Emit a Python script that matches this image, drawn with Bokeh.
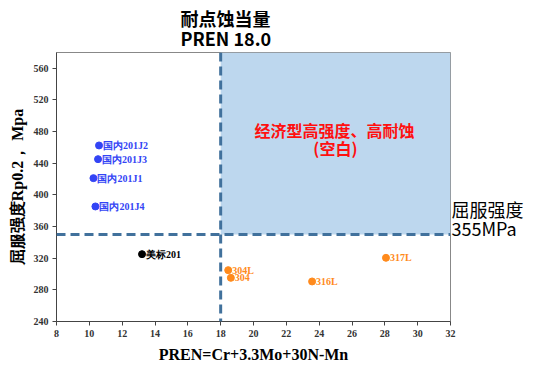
from bokeh.plotting import figure
from bokeh.models import Range1d, Span, Label, ColumnDataSource, FixedTicker, LinearAxis
from bokeh.core.properties import value
from bokeh.embed import file_html
from bokeh.resources import INLINE

# ---- data ----
cn_names = ["国内201J2", "国内201J3", "国内201J1", "国内201J4"]
cn_pren = [10.59, 10.53, 10.25, 10.37]
cn_rp = [462.5, 445.2, 421.2, 385.4]

us_names = ["美标201"]
us_pren = [13.21]
us_rp = [325.1]

ss_names = ["304L", "304", "316L", "317L"]
ss_pren = [18.46, 18.62, 23.57, 28.07]
ss_rp = [304.9, 295.2, 290.6, 320.5]

pren_threshold = 18.0
rp_threshold = 350.0
x_ticks = [8, 10, 12, 14, 16, 18, 20, 22, 24, 26, 28, 30, 32]
y_ticks = [240, 280, 320, 360, 400, 440, 480, 520, 560]
x_min, x_max = 8, 32
y_min, y_max = 240, 580
right_label_pos = [382, 358]
right_label_text = ["屈服强度", "355MPa"]

BLUE = "#3344F5"
ORANGE = "#FF8A1C"
DASH = "#41719C"
SERIF = "Liberation Serif"
SANS = "Noto Sans CJK SC"

p = figure(width=534, height=365, output_backend="svg", toolbar_location=None,
           x_range=Range1d(x_min, x_max), y_range=Range1d(y_min, y_max),
           min_border_left=56, min_border_right=84, min_border_top=52, min_border_bottom=44)
p.background_fill_color = "white"
p.border_fill_color = "white"
p.outline_line_color = "#888888"
p.outline_line_width = 1
p.xgrid.visible = False
p.ygrid.visible = False

for ax, ticks in ((p.xaxis, x_ticks), (p.yaxis, y_ticks)):
    ax.ticker = FixedTicker(ticks=ticks)
    ax.minor_tick_line_color = None
    ax.major_tick_in = 0
    ax.major_tick_out = 4
    ax.axis_line_color = "#444444"
    ax.major_tick_line_color = "#444444"
    ax.major_label_text_font = SERIF
    ax.major_label_text_font_style = "bold"
    ax.major_label_text_font_size = "10px"
    ax.major_label_text_color = "#333333"
    ax.major_label_standoff = 4
    ax.axis_label_text_font = SERIF
    ax.axis_label_text_font_style = "bold"
    ax.axis_label_text_color = "black"

p.xaxis.axis_label = "PREN=Cr+3.3Mo+30N-Mn"
p.xaxis.axis_label_text_font_size = "16px"
p.xaxis.axis_label_standoff = 6
p.yaxis.axis_label = "屈服强度Rp0.2， Mpa"
p.yaxis.axis_label_text_font_size = "16px"
p.yaxis.axis_label_standoff = 5

# right-hand threshold caption
rax = LinearAxis(ticker=FixedTicker(ticks=right_label_pos),
                 major_label_overrides={k: v for k, v in zip(right_label_pos, right_label_text)},
                 axis_line_color=None, major_tick_line_color=None, minor_tick_line_color=None,
                 major_tick_in=0, major_tick_out=0, major_label_standoff=1,
                 major_label_text_font=SANS, major_label_text_font_size="18px",
                 major_label_text_color="black")
p.add_layout(rax, "right")

# two-line title
p.title.text = "耐点蚀当量\nPREN 18.0"
p.title.text_font = SANS
p.title.text_font_size = "18px"
p.title.text_font_style = "bold"
p.title.text_color = "black"
p.title.text_line_height = 0.75
p.title.align = "left"
p.title.offset = 124
p.title.standoff = 4

# high strength / high corrosion resistance region
p.quad(left=[pren_threshold], right=[x_max], bottom=[rp_threshold], top=[y_max],
       fill_color="#BDD7EE", line_color=None)

p.add_layout(Span(location=pren_threshold, dimension="height", line_color=DASH,
                  line_width=3, line_dash="9 5"))
p.add_layout(Span(location=rp_threshold, dimension="width", line_color=DASH,
                  line_width=3, line_dash="9 5"))

groups = [(cn_names, cn_pren, cn_rp, BLUE), (us_names, us_pren, us_rp, "black"),
          (ss_names, ss_pren, ss_rp, ORANGE)]
for names, xs, ys, col in groups:
    src = ColumnDataSource(dict(x=xs, y=ys, t=names))
    p.scatter("x", "y", source=src, size=7, color=col)
    p.text("x", "y", text="t", source=src, x_offset=4, text_baseline="middle",
           text_font=value(SERIF), text_font_style="bold", text_font_size="10px",
           text_color=col)

# region text
p.add_layout(Label(x=24.93, y=481.5, text="经济型高强度、高耐蚀", text_align="center",
                   text_baseline="middle", text_font=SANS, text_font_style="bold",
                   text_font_size="16px", text_color="#FF1010"))
p.add_layout(Label(x=24.99, y=458.7, text="(空白)", text_align="center",
                   text_baseline="middle", text_font=SANS, text_font_style="bold",
                   text_font_size="16px", text_color="#FF1010"))

open("out.html", "w").write(file_html(p, INLINE))
